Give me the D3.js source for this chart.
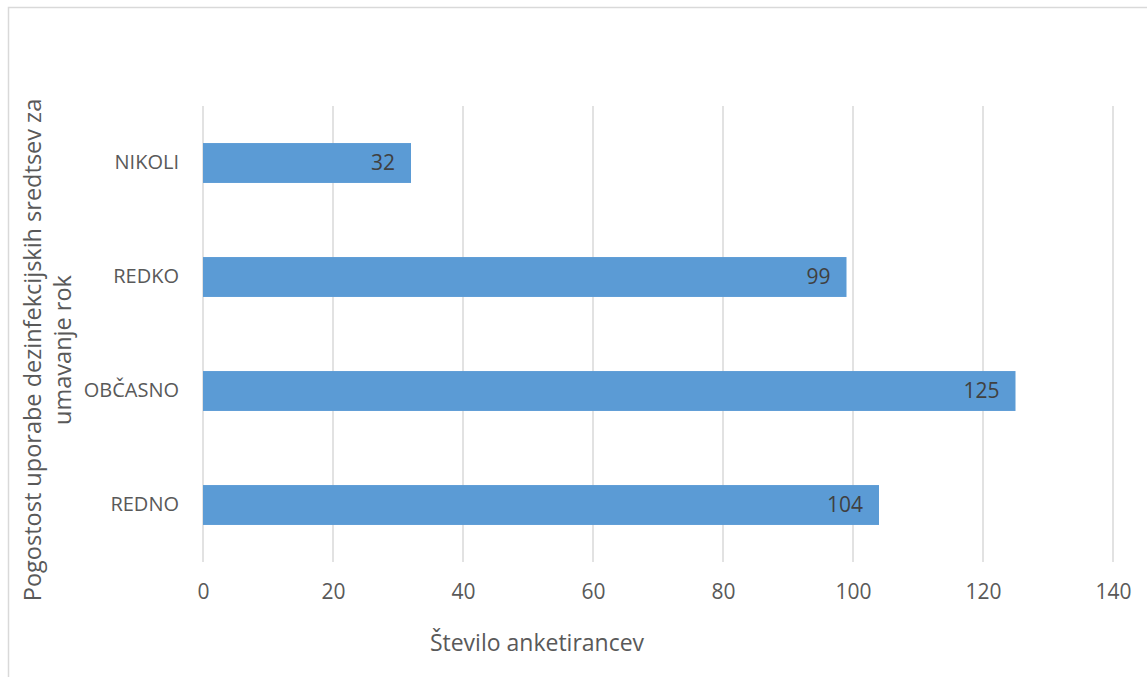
<!DOCTYPE html>
<html><head><meta charset="utf-8">
<script src="https://cdn.jsdelivr.net/npm/d3@7"></script>
<style>body{margin:0;background:#fff;} svg{display:block;}</style>
</head><body>
<script>
const categories = ["NIKOLI", "REDKO", "OBČASNO", "REDNO"];
const values = [32, 99, 125, 104];
const tickValues = [0, 20, 40, 60, 80, 100, 120, 140];
const xTitle = "Število anketirancev";
const yTitleLines = ["Pogostost uporabe dezinfekcijskih sredtsev za", "umavanje rok"];

(function () {
const W = 1147, H = 677;
const font = "'Open Sans', sans-serif";
const svg = d3.select("body").append("svg").attr("width", W).attr("height", H);
svg.append("rect").attr("x", 8.5).attr("y", 7.5).attr("width", W).attr("height", H)
  .attr("fill", "#fff").attr("stroke", "#d9d9d9").attr("stroke-width", 1.5);

const pLeft = 203, pRight = 1113, pTop = 106, pBottom = 562;
const x = d3.scaleLinear().domain([0, 140]).range([pLeft, pRight]);
const y = d3.scaleBand().domain(categories).range([pTop, pBottom]).paddingInner(0.65).paddingOuter(0.325);

svg.append("g").selectAll("line").data(tickValues).join("line")
  .attr("x1", d => x(d)).attr("x2", d => x(d)).attr("y1", pTop).attr("y2", pBottom)
  .attr("stroke", "#d9d9d9").attr("stroke-width", 1.5);

svg.append("g").selectAll("rect").data(values).join("rect")
  .attr("x", x(0)).attr("y", (d, i) => y(categories[i]))
  .attr("width", d => x(d) - x(0)).attr("height", y.bandwidth())
  .attr("fill", "#5b9bd5");

svg.append("g").selectAll("text").data(values).join("text")
  .attr("x", d => x(d) - 16).attr("y", (d, i) => y(categories[i]) + y.bandwidth() / 2)
  .attr("dy", "0.35em").attr("text-anchor", "end")
  .attr("font-family", font).attr("font-size", 21).attr("fill", "#404040")
  .text(d => d);

const xAxis = d3.axisBottom(x).tickValues(tickValues).tickSize(0).tickPadding(0);
const gx = svg.append("g").attr("transform", `translate(0,${pBottom + 30})`).call(xAxis);
gx.select(".domain").remove();
gx.selectAll("text").attr("font-family", font).attr("font-size", 21).attr("fill", "#595959").attr("dy", "0.35em");

const yAxis = d3.axisLeft(y).tickSize(0).tickPadding(24);
const gy = svg.append("g").attr("transform", `translate(${pLeft},0)`).call(yAxis);
gy.select(".domain").remove();
gy.selectAll("text").attr("font-family", font).attr("font-size", 20).attr("fill", "#595959");

svg.append("text").attr("x", 537).attr("y", 643).attr("dy", "0.35em").attr("text-anchor", "middle")
  .attr("font-family", font).attr("font-size", 23).attr("fill", "#595959").text(xTitle);

const yt = svg.append("text").attr("transform", "translate(33,350) rotate(-90)")
  .attr("text-anchor", "middle").attr("font-family", font).attr("font-size", 23.5).attr("fill", "#595959");
yTitleLines.forEach((t, i) => yt.append("tspan").attr("x", 0).attr("y", i * 30).attr("dy", "0.35em").text(t));
})();
</script>
</body></html>
